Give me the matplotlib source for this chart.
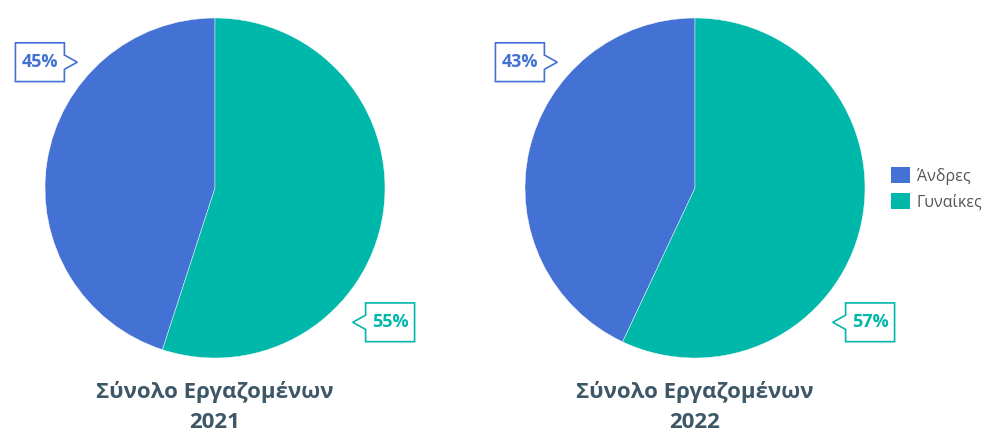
import matplotlib.pyplot as plt
from matplotlib.patches import Polygon, Patch

plt.rcParams['font.family'] = ['Open Sans', 'DejaVu Sans']

# Employment share by gender
labels = ['Άνδρες', 'Γυναίκες']
years = ['2021', '2022']
shares = {
    '2021': [45, 55],
    '2022': [43, 57],
}
colors = ['#4472d4', '#00b8a9']
title_text = 'Σύνολο Εργαζομένων'
title_color = '#3d5767'


def callout(ax, tip, value, color, side):
    """Boxed value label with a small pointer towards the pie."""
    w, h = 0.288, 0.228
    depth, half = 0.076, 0.042
    tx, ty = tip
    if side == 'left':
        # box sits to the left, pointer on its right edge
        xr = tx - depth
        xl = xr - w
        pts = [(xl, ty - h / 2), (xr, ty - h / 2), (xr, ty - half), (tx, ty),
               (xr, ty + half), (xr, ty + h / 2), (xl, ty + h / 2)]
    else:
        xl = tx + depth
        xr = xl + w
        pts = [(xl, ty - h / 2), (xr, ty - h / 2), (xr, ty + h / 2), (xl, ty + h / 2),
               (xl, ty + half), (tx, ty), (xl, ty - half)]
    ax.add_patch(Polygon(pts, closed=True, facecolor='white', edgecolor=color,
                         linewidth=1.2, clip_on=False, zorder=5))
    ax.text((xl + xr) / 2, ty, f'{value}%', ha='center', va='center', color=color,
            fontsize=13, fontweight='bold', clip_on=False, zorder=6)


fig = plt.figure(figsize=(9.85, 4.34), dpi=100)
W, H = 985, 434
centers_x = [215, 695]
cy, r = 188, 170

for year, cx in zip(years, centers_x):
    ax = fig.add_axes([(cx - r) / W, (H - cy - r) / H, 2 * r / W, 2 * r / H])
    vals = shares[year]
    ax.pie(vals, colors=colors, startangle=90, counterclock=True, radius=1,
           wedgeprops=dict(edgecolor='white', linewidth=0.3))
    ax.set_xlim(-1, 1)
    ax.set_ylim(-1, 1)
    ax.set_aspect('equal')
    ax.axis('off')

    callout(ax, (-0.81, 0.74), vals[0], colors[0], 'left')
    callout(ax, (0.81, -0.79), vals[1], colors[1], 'right')

    fig.text(cx / W, 1 - 392 / H, title_text, ha='center', va='center',
             fontsize=16, fontweight='bold', color=title_color)
    fig.text(cx / W, 1 - 423 / H, year, ha='center', va='center',
             fontsize=16, fontweight='bold', color=title_color)

handles = [Patch(facecolor=c, edgecolor='none') for c in colors]
fig.legend(handles, labels, loc='upper left', bbox_to_anchor=(877 / W, 1 - 153 / H),
           frameon=False, fontsize=11.5, handlelength=1.15, handleheight=1.15,
           handletextpad=0.45, labelspacing=0.55, labelcolor='#555555')

fig.savefig('out.png', dpi=100)
